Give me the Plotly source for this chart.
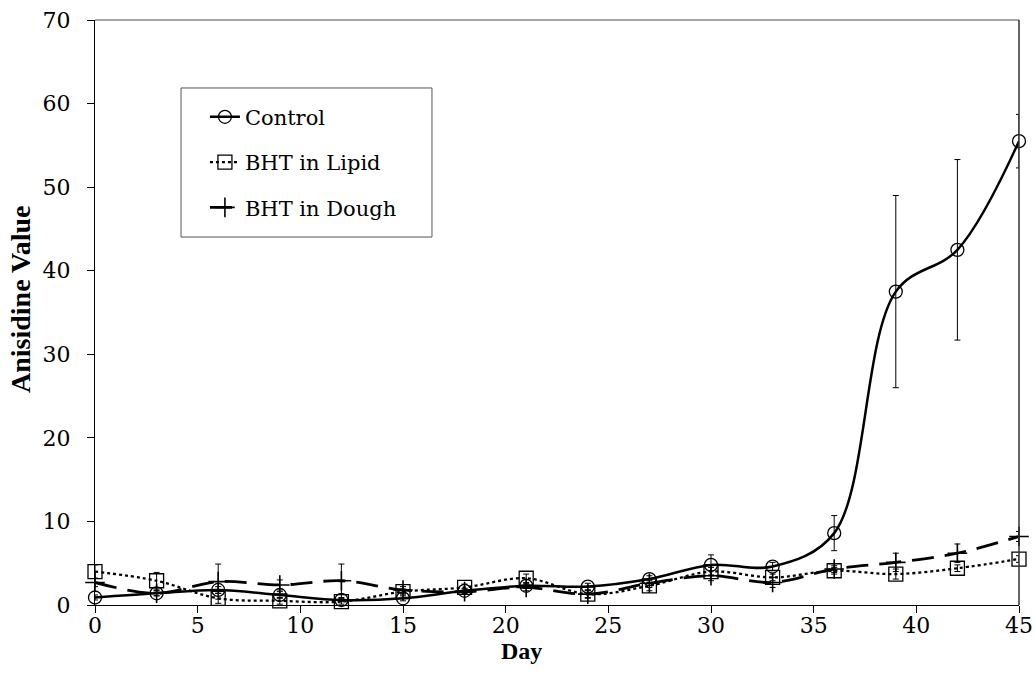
import plotly.graph_objects as go

days = [0, 3, 6, 9, 12, 15, 18, 21, 24, 27, 30, 33, 36, 39, 42, 45]
control = [0.9, 1.4, 1.8, 1.2, 0.6, 0.8, 1.7, 2.3, 2.2, 3.1, 4.8, 4.6, 8.6, 37.5, 42.5, 55.5]
control_err = [0.3, 0.3, 0.4, 0.4, 0.2, 0.3, 0.3, 0.3, 0.4, 0.4, 1.2, 0.5, 2.1, 11.5, 10.8, 3.2]
lipid = [4.0, 2.9, 0.8, 0.5, 0.4, 1.6, 2.1, 3.2, 1.3, 2.3, 4.0, 3.3, 4.1, 3.7, 4.4, 5.5]
lipid_err = [0.8, 1.0, 0.6, 0.4, 0.3, 0.3, 0.4, 0.5, 0.4, 0.6, 0.5, 0.4, 0.4, 0.6, 0.4, 0.4]
dough = [2.7, 1.4, 2.8, 2.4, 2.9, 1.8, 1.6, 2.1, 1.3, 2.6, 3.5, 2.7, 4.3, 5.1, 6.2, 8.2]
dough_err = [0.5, 0.3, 2.1, 0.6, 2.0, 0.4, 0.3, 0.4, 0.5, 0.5, 0.6, 0.6, 0.4, 1.1, 1.1, 0.6]

SERIF = "DejaVu Serif"
BOLD = "Liberation Serif"

def err(vals):
    return dict(type="data", array=vals, visible=True, color="black", thickness=1, width=3)

fig = go.Figure()
fig.add_trace(go.Scatter(
    x=days, y=control, name="Control", legendgroup="a", mode="lines+markers",
    line=dict(color="black", width=2.5, shape="spline", smoothing=1),
    marker=dict(symbol="circle-open", size=13, color="black", line=dict(width=1.3)),
    error_y=err(control_err), cliponaxis=False))
fig.add_trace(go.Scatter(
    x=days, y=lipid, name="BHT in Lipid", legendgroup="b", mode="lines+markers",
    line=dict(color="black", width=2.3, dash="dot", shape="spline", smoothing=1),
    marker=dict(symbol="square-open", size=14, color="black", line=dict(width=1.3)),
    error_y=err(lipid_err), cliponaxis=False))
fig.add_trace(go.Scatter(
    x=days, y=dough, name="BHT in Dough", legendgroup="c", mode="lines+markers",
    line=dict(color="black", width=2.8, dash="22px,11px", shape="spline", smoothing=1),
    marker=dict(symbol="cross-thin-open", size=14, color="black", line=dict(width=1.6, color="black")),
    error_y=err(dough_err), cliponaxis=False))

fig.update_layout(
    width=1035, height=687,
    margin=dict(l=95, r=16, t=20, b=82, autoexpand=False),
    paper_bgcolor="white", plot_bgcolor="white",
    font=dict(family=SERIF, size=22, color="black"),
    showlegend=True,
    legend=dict(
        x=0.093, y=0.869, xanchor="left", yanchor="top",
        borderwidth=0, bgcolor="rgba(0,0,0,0)",
        font=dict(family=SERIF, size=21, color="black"),
        traceorder="grouped", tracegroupgap=15, indentation=24,
        itemwidth=30,
    ),
    xaxis=dict(
        range=[0, 45], tick0=0, dtick=5, showgrid=False, zeroline=False,
        showline=True, linecolor="black", linewidth=1, automargin=False,
        ticks="outside", ticklen=7, tickcolor="black",
        tickfont=dict(family=SERIF, size=22), ticklabelstandoff=-6,
    ),
    yaxis=dict(
        range=[0, 70], tick0=0, dtick=10, showgrid=False, zeroline=False,
        showline=True, linecolor="black", linewidth=1, automargin=False,
        ticks="outside", ticklen=7, tickcolor="black",
        tickfont=dict(family=SERIF, size=22), ticklabelstandoff=12,
    ),
    annotations=[
        dict(text="<b>Day</b>", xref="paper", yref="paper", x=0.462, y=-0.0785,
             xanchor="center", yanchor="middle", showarrow=False,
             font=dict(family=BOLD, size=24, color="black")),
        dict(text="<b>Anisidine Value</b>", xref="paper", yref="paper", x=-0.0812, y=0.523,
             xanchor="center", yanchor="middle", showarrow=False, textangle=-90,
             font=dict(family=BOLD, size=28, color="black")),
    ],
    shapes=[
        dict(type="rect", xref="paper", yref="paper", x0=0.0931, x1=0.3647, y0=0.629, y1=0.8838,
             line=dict(color="#555555", width=1), fillcolor="rgba(0,0,0,0)", layer="above"),
        dict(type="line", xref="paper", yref="paper", x0=0, x1=1, y0=1, y1=1,
             line=dict(color="#888888", width=1.5)),
        dict(type="line", xref="paper", yref="paper", x0=1, x1=1, y0=0, y1=1,
             line=dict(color="#333333", width=1.5)),
    ],
)

fig.write_html("out.html")
